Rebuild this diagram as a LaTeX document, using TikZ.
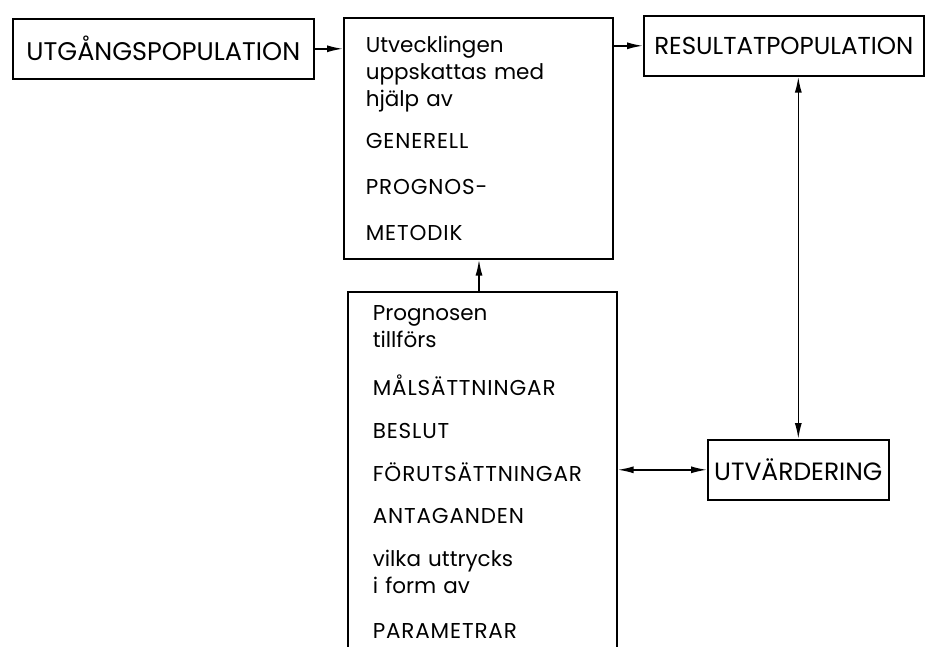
\documentclass[tikz,border=0pt]{standalone}
\usepackage{fontspec}
\setmainfont{Poppins}
\newfontfamily\versal[LetterSpace=4]{Poppins}
\usetikzlibrary{arrows.meta}
\usetikzlibrary{positioning}

% versaler i rutorna lite storre och spaerrade
\newcommand{\kap}[1]{{\versal\fontsize{21.5}{27}\selectfont #1}}

\tikzset{
    box/.style={draw, line width=1.6pt, inner sep=0pt, anchor=north west},
    textbox/.style={box, align=left, font=\fontsize{21.5}{27}\selectfont},
    pil/.style={-{Latex[length=16pt,width=7pt]}, line width=1.6pt},
    dpil/.style={{Latex[length=16pt,width=7pt]}-{Latex[length=16pt,width=7pt]}, line width=1.6pt},
}

\begin{document}
\begin{tikzpicture}[x=1pt,y=-1pt]
    \useasboundingbox (0,0) rectangle (934,647);

    \node[box, minimum width=301, minimum height=60, font=\fontsize{25.5}{28}\selectfont] (utg) at (12,18) {UTGÅNGSPOPULATION};
    \node[textbox, minimum width=269, minimum height=241, text width=225, inner xsep=22pt] (utv) at (343,17)
        {Utvecklingen\\uppskattas med\\hjälp av\\[15pt]\kap{GENERELL}\\[19pt]\kap{PROGNOS-}\\[19pt]\kap{METODIK}};
    \node[box, minimum width=280, minimum height=60, font=\fontsize{24.5}{28}\selectfont] (res) at (643,15) {RESULTATPOPULATION};
    \node[textbox, minimum width=269, minimum height=360, text width=219, inner xsep=25pt] (prog) at (347,291)
        {Prognosen\\tillförs\\[21pt]\kap{MÅLSÄTTNINGAR}\\[16pt]\kap{BESLUT}\\[16pt]\kap{FÖRUTSÄTTNINGAR}\\[15pt]\kap{ANTAGANDEN}\\[16pt]vilka uttrycks\\i form av\\[18pt]\kap{PARAMETRAR}};
    \node[box, minimum width=181, minimum height=60, font=\fontsize{25}{28}\selectfont] (utvard) at (707,439) {UTVÄRDERING};

    \draw[pil] (utg.east) -- (utg.east -| utv.west);
    \draw[pil] (utv.north east |- res.west) -- (res.west);
    \draw[pil] (prog.north -| 479,0) -- (utv.south -| 479,0);
    \draw[dpil] (res.south -| utvard.north) -- (utvard.north);
    \draw[dpil] (prog.east |- utvard.west) -- (utvard.west);
\end{tikzpicture}
\end{document}
